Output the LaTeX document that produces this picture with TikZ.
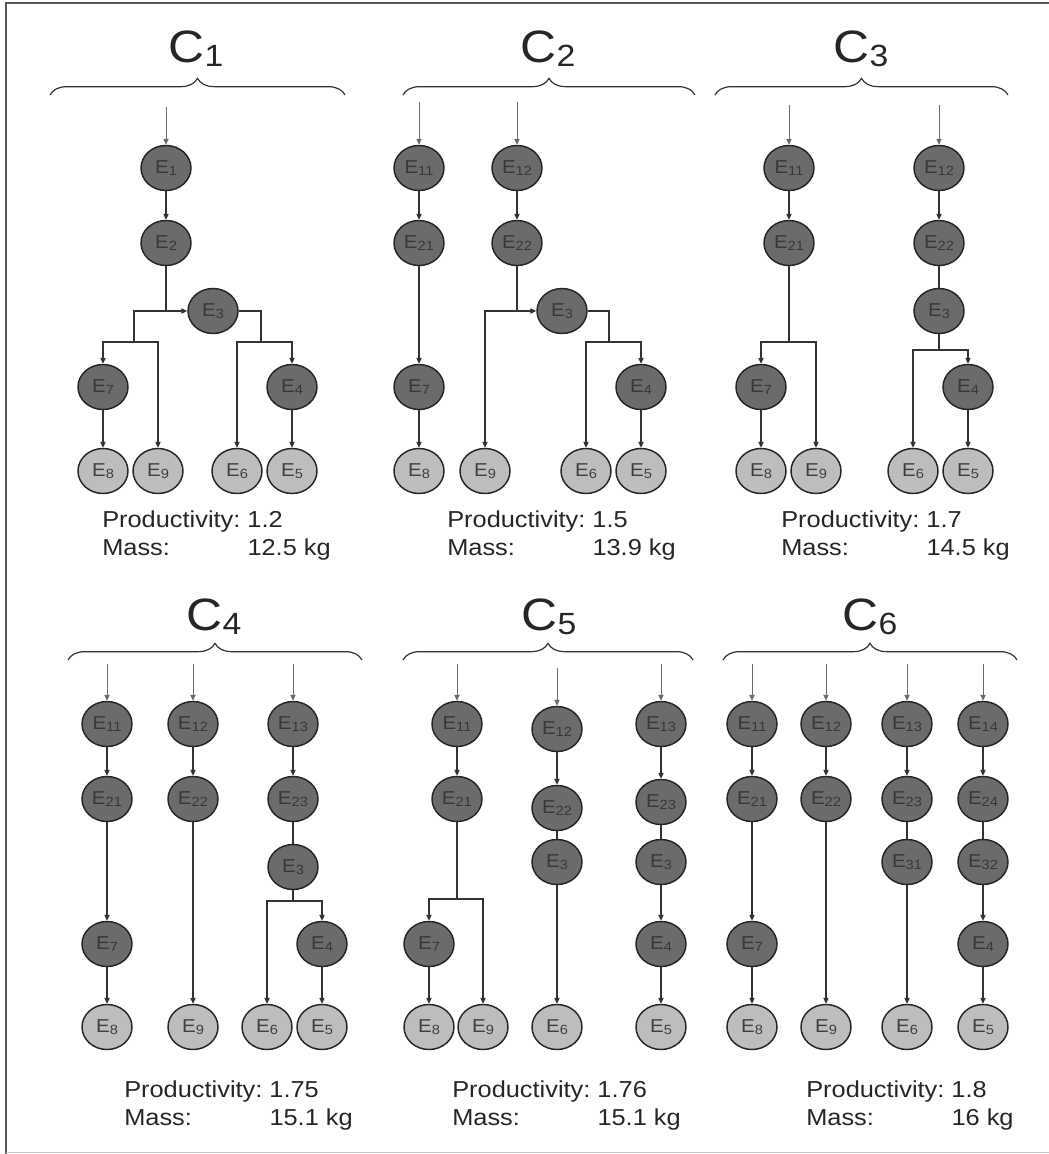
\documentclass[tikz,border=0pt]{standalone}
\usepackage{fontspec}
\setmainfont[FakeStretch=1.1]{Liberation Sans}
\usetikzlibrary{shapes.geometric,arrows.meta,decorations.pathreplacing}
\definecolor{dkfill}{gray}{0.42}
\definecolor{ltfill}{gray}{0.74}
\definecolor{dktext}{gray}{0.22}
\definecolor{lttext}{gray}{0.25}
\definecolor{edgec}{gray}{0.15}
\definecolor{lnc}{gray}{0.2}
\newcommand\En[1]{E\raisebox{-1.5pt}{\fontsize{10}{11}\selectfont #1}}
\newcommand\Cn[1]{C\raisebox{-3.5pt}{\fontsize{23}{23}\selectfont #1}}
\newcommand\infotab[2]{\begin{tabular}[t]{@{}l@{\ }l@{}}Productivity: & #1\\ Mass: & #2\end{tabular}}
\begin{document}
\begin{tikzpicture}[x=0.75pt,y=-0.75pt,
  dk/.style={ellipse, draw=edgec, line width=1.1pt, fill=dkfill, minimum width=37.5pt, minimum height=33.75pt, inner sep=0pt, text=dktext, font=\fontsize{14}{16}\selectfont},
  lt/.style={dk, fill=ltfill, text=lttext},
  ln/.style={draw=lnc, line width=0.8pt},
  arr/.style={ln, -{Triangle[length=4.5pt,width=4pt]}},
  inarr/.style={arr, draw=gray!85!black, line width=0.6pt},
  ttl/.style={font=\fontsize{34}{36}\selectfont, inner sep=0pt, anchor=base, text=black!85},
  br/.style={decorate, decoration={brace, amplitude=12.5pt}, line width=0.9pt, draw=lnc},
  info/.style={inner sep=0pt, anchor=base west, font=\fontsize{17.3}{21}\selectfont, text=black!85},
  frm/.style={draw=gray!70!black, line width=1pt}]
\path[fill=white] (0,0) rectangle (1049,1154);
\useasboundingbox (0,0) rectangle (1049,1154);
\draw[frm] (6,1154) -- (6,3) -- (1049,3);
\draw[draw=gray!45, line width=0.75pt] (6,1152) -- (1049,1152);

% ---------------- C1
\node[ttl] (t1) at (196,62) {\Cn{1}};
\draw[br] (50,95) -- (345,95);
\coordinate (a0) at (166,107);
\node[dk] (a1) at (166,168) {\En{1}};
\node[dk] (a2) at (166,243) {\En{2}};
\node[dk] (a3) at (213,311) {\En{3}};
\node[dk] (a7) at (103,387) {\En{7}};
\node[dk] (a4) at (292,387) {\En{4}};
\node[lt] (a8) at (103,471) {\En{8}};
\node[lt] (a9) at (158,471) {\En{9}};
\node[lt] (a6) at (237,471) {\En{6}};
\node[lt] (a5) at (292,471) {\En{5}};
\coordinate (aj1) at (166,311);
\coordinate (aj2) at (134,311);
\coordinate (aj3) at (134,342);
\coordinate (aj4) at (261,311);
\coordinate (aj5) at (261,342);
\draw[inarr] (a0) -- (a1);
\draw[arr] (a1) -- (a2);
\draw[ln] (a2) -- (aj1);
\draw[arr] (aj1) -- (a3);
\draw[ln] (aj1) -- (aj2) -- (aj3);
\draw[arr] (aj3) -| (a7);
\draw[arr] (aj3) -| (a9);
\draw[ln] (a3) -- (aj4) -- (aj5);
\draw[arr] (aj5) -| (a6);
\draw[arr] (aj5) -| (a4);
\draw[arr] (a7) -- (a8);
\draw[arr] (a4) -- (a5);
\node[info] (ai) at (102,527) {\infotab{1.2}{12.5 kg}};

% ---------------- C2
\node[ttl] (t2) at (548,62) {\Cn{2}};
\draw[br] (403,95) -- (695,95);
\coordinate (b01) at (419,102);
\coordinate (b02) at (517,102);
\node[dk] (b11) at (419,168) {\En{11}};
\node[dk] (b12) at (517,168) {\En{12}};
\node[dk] (b21) at (419,243) {\En{21}};
\node[dk] (b22) at (517,243) {\En{22}};
\node[dk] (b3) at (562,311) {\En{3}};
\node[dk] (b7) at (419,387) {\En{7}};
\node[dk] (b4) at (641,387) {\En{4}};
\node[lt] (b8) at (419,471) {\En{8}};
\node[lt] (b9) at (485,471) {\En{9}};
\node[lt] (b6) at (586,471) {\En{6}};
\node[lt] (b5) at (641,471) {\En{5}};
\coordinate (bj1) at (517,311);
\coordinate (bj2) at (609,311);
\coordinate (bj3) at (609,342);
\draw[inarr] (b01) -- (b11);
\draw[inarr] (b02) -- (b12);
\draw[arr] (b11) -- (b21);
\draw[arr] (b12) -- (b22);
\draw[arr] (b21) -- (b7);
\draw[arr] (b7) -- (b8);
\draw[ln] (b22) -- (bj1);
\draw[arr] (bj1) -- (b3);
\draw[arr] (bj1) -| (b9);
\draw[ln] (b3) -- (bj2) -- (bj3);
\draw[arr] (bj3) -| (b6);
\draw[arr] (bj3) -| (b4);
\draw[arr] (b4) -- (b5);
\node[info] (bi) at (447,527) {\infotab{1.5}{13.9 kg}};

% ---------------- C3
\node[ttl] (t3) at (861,62) {\Cn{3}};
\draw[br] (715,95) -- (1008,95);
\coordinate (c01) at (789,105);
\coordinate (c02) at (939,105);
\node[dk] (c11) at (789,168) {\En{11}};
\node[dk] (c12) at (939,168) {\En{12}};
\node[dk] (c21) at (789,243) {\En{21}};
\node[dk] (c22) at (939,243) {\En{22}};
\node[dk] (c3) at (939,311) {\En{3}};
\node[dk] (c7) at (761,387) {\En{7}};
\node[dk] (c4) at (968,387) {\En{4}};
\node[lt] (c8) at (761,471) {\En{8}};
\node[lt] (c9) at (816,471) {\En{9}};
\node[lt] (c6) at (913,471) {\En{6}};
\node[lt] (c5) at (968,471) {\En{5}};
\coordinate (cj1) at (789,342);
\coordinate (cj2) at (939,350);
\draw[inarr] (c01) -- (c11);
\draw[inarr] (c02) -- (c12);
\draw[arr] (c11) -- (c21);
\draw[arr] (c12) -- (c22);
\draw[ln] (c22) -- (c3);
\draw[ln] (c21) -- (cj1);
\draw[arr] (cj1) -| (c7);
\draw[arr] (cj1) -| (c9);
\draw[ln] (c3) -- (cj2);
\draw[arr] (cj2) -| (c6);
\draw[arr] (cj2) -| (c4);
\draw[arr] (c7) -- (c8);
\draw[arr] (c4) -- (c5);
\node[info] (ci) at (781,527) {\infotab{1.7}{14.5 kg}};

% ---------------- C4
\node[ttl] (t4) at (214,630) {\Cn{4}};
\draw[br] (68,660) -- (362,660);
\coordinate (d01) at (107,664);
\coordinate (d02) at (193,664);
\coordinate (d03) at (293,664);
\node[dk] (d11) at (107,724) {\En{11}};
\node[dk] (d12) at (193,724) {\En{12}};
\node[dk] (d13) at (293,724) {\En{13}};
\node[dk] (d21) at (107,799) {\En{21}};
\node[dk] (d22) at (193,799) {\En{22}};
\node[dk] (d23) at (293,799) {\En{23}};
\node[dk] (d3) at (293,867) {\En{3}};
\node[dk] (d7) at (107,944) {\En{7}};
\node[dk] (d4) at (322,944) {\En{4}};
\node[lt] (d8) at (107,1027) {\En{8}};
\node[lt] (d9) at (193,1027) {\En{9}};
\node[lt] (d6) at (267,1027) {\En{6}};
\node[lt] (d5) at (322,1027) {\En{5}};
\coordinate (dj) at (293,901);
\draw[inarr] (d01) -- (d11);
\draw[inarr] (d02) -- (d12);
\draw[inarr] (d03) -- (d13);
\draw[arr] (d11) -- (d21);
\draw[arr] (d12) -- (d22);
\draw[arr] (d13) -- (d23);
\draw[ln] (d23) -- (d3);
\draw[arr] (d21) -- (d7);
\draw[arr] (d7) -- (d8);
\draw[arr] (d22) -- (d9);
\draw[ln] (d3) -- (dj);
\draw[arr] (dj) -| (d6);
\draw[arr] (dj) -| (d4);
\draw[arr] (d4) -- (d5);
\node[info] (di) at (124,1097) {\infotab{1.75}{15.1 kg}};

% ---------------- C5
\node[ttl] (t5) at (549,630) {\Cn{5}};
\draw[br] (403,660) -- (693,660);
\coordinate (e01) at (457,664);
\coordinate (e02) at (557,668);
\coordinate (e03) at (661,664);
\node[dk] (e11) at (457,724) {\En{11}};
\node[dk] (e12) at (557,729) {\En{12}};
\node[dk] (e13) at (661,724) {\En{13}};
\node[dk] (e21) at (457,799) {\En{21}};
\node[dk] (e22) at (557,808) {\En{22}};
\node[dk] (e23) at (661,802) {\En{23}};
\node[dk] (e3a) at (557,862) {\En{3}};
\node[dk] (e3b) at (661,862) {\En{3}};
\node[dk] (e7) at (429,944) {\En{7}};
\node[dk] (e4) at (661,944) {\En{4}};
\node[lt] (e8) at (429,1027) {\En{8}};
\node[lt] (e9) at (483,1027) {\En{9}};
\node[lt] (e6) at (557,1027) {\En{6}};
\node[lt] (e5) at (661,1027) {\En{5}};
\coordinate (ej) at (457,899);
\draw[inarr] (e01) -- (e11);
\draw[inarr] (e02) -- (e12);
\draw[inarr] (e03) -- (e13);
\draw[arr] (e11) -- (e21);
\draw[arr] (e12) -- (e22);
\draw[arr] (e13) -- (e23);
\draw[ln] (e22) -- (e3a);
\draw[ln] (e23) -- (e3b);
\draw[arr] (e3a) -- (e6);
\draw[arr] (e3b) -- (e4);
\draw[arr] (e4) -- (e5);
\draw[ln] (e21) -- (ej);
\draw[arr] (ej) -| (e7);
\draw[arr] (ej) -| (e9);
\draw[arr] (e7) -- (e8);
\node[info] (ei) at (452,1097) {\infotab{1.76}{15.1 kg}};

% ---------------- C6
\node[ttl] (t6) at (870,630) {\Cn{6}};
\draw[br] (723,660) -- (1017,660);
\coordinate (f01) at (752,664);
\coordinate (f02) at (826,664);
\coordinate (f03) at (907,664);
\coordinate (f04) at (983,664);
\node[dk] (f11) at (752,724) {\En{11}};
\node[dk] (f12) at (826,724) {\En{12}};
\node[dk] (f13) at (907,724) {\En{13}};
\node[dk] (f14) at (983,724) {\En{14}};
\node[dk] (f21) at (752,799) {\En{21}};
\node[dk] (f22) at (826,799) {\En{22}};
\node[dk] (f23) at (907,799) {\En{23}};
\node[dk] (f24) at (983,799) {\En{24}};
\node[dk] (f31) at (907,862) {\En{31}};
\node[dk] (f32) at (983,862) {\En{32}};
\node[dk] (f7) at (752,944) {\En{7}};
\node[dk] (f4) at (983,944) {\En{4}};
\node[lt] (f8) at (752,1027) {\En{8}};
\node[lt] (f9) at (826,1027) {\En{9}};
\node[lt] (f6) at (907,1027) {\En{6}};
\node[lt] (f5) at (983,1027) {\En{5}};
\draw[inarr] (f01) -- (f11);
\draw[inarr] (f02) -- (f12);
\draw[inarr] (f03) -- (f13);
\draw[inarr] (f04) -- (f14);
\draw[arr] (f11) -- (f21);
\draw[arr] (f12) -- (f22);
\draw[arr] (f13) -- (f23);
\draw[arr] (f14) -- (f24);
\draw[arr] (f21) -- (f7);
\draw[arr] (f7) -- (f8);
\draw[arr] (f22) -- (f9);
\draw[ln] (f23) -- (f31);
\draw[arr] (f31) -- (f6);
\draw[ln] (f24) -- (f32);
\draw[arr] (f32) -- (f4);
\draw[arr] (f4) -- (f5);
\node[info] (fi) at (806,1097) {\infotab{1.8}{16 kg}};
\end{tikzpicture}
\end{document}
